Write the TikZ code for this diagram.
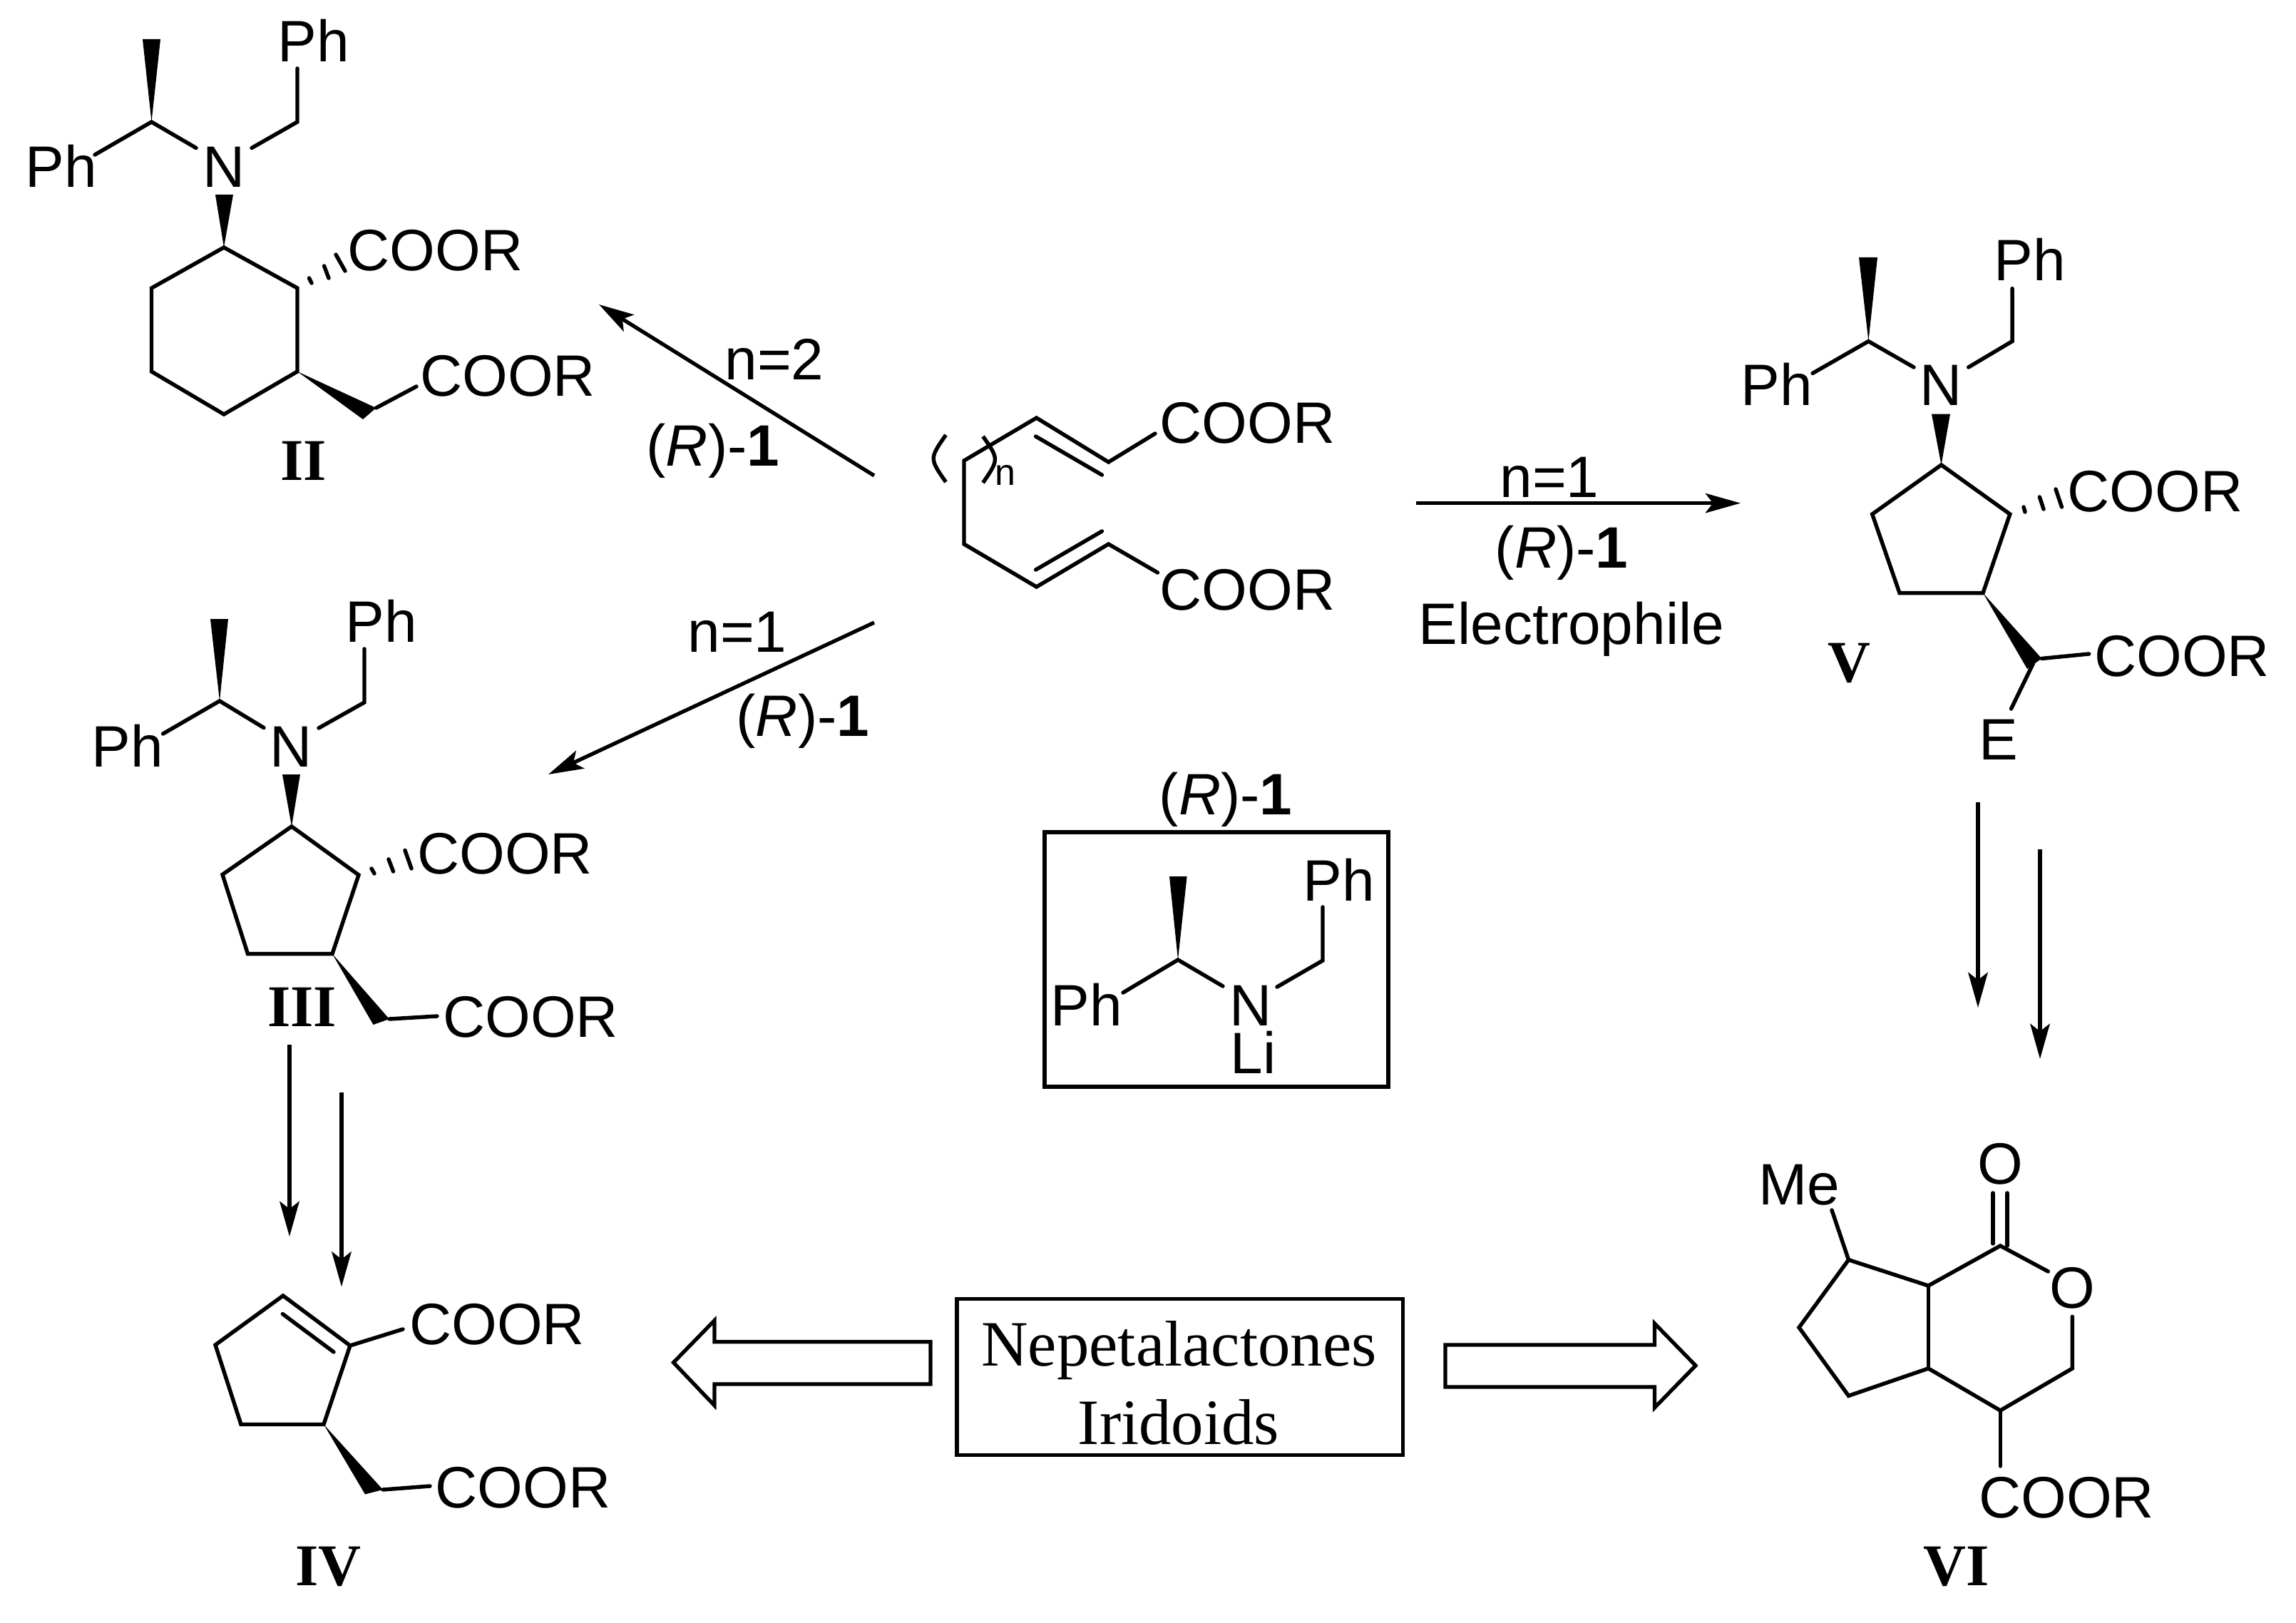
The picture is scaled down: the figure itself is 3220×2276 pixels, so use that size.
\documentclass[tikz,border=0pt]{standalone}
\usepackage{fontspec}
\setmainfont{Liberation Sans}
\newfontfamily\timesf{Liberation Serif}
\usetikzlibrary{arrows.meta}
\tikzset{
  x=0.01cm,y=-0.01cm,
  bond/.style={line width=1.55pt,line join=miter,line cap=round},
  boxline/.style={line width=1.5pt,line join=miter},
  rxn/.style={line width=1.5pt,-{Stealth[length=14pt,width=7.8pt,inset=3pt]}},
  atom/.style={inner sep=0pt,anchor=base,font=\fontsize{23.3}{27}\selectfont},
  subn/.style={inner sep=0pt,anchor=base,font=\fontsize{14.8}{18}\selectfont},
  cpd/.style={inner sep=0pt,anchor=base,font=\timesf\bfseries\fontsize{23.6}{28}\selectfont},
  boxtext/.style={inner sep=0pt,anchor=base,font=\timesf\fontsize{25.8}{30}\selectfont},
}
\newcommand{\Rone}{(\textit{R})-\textbf{1}}
\begin{document}
\begin{tikzpicture}
\useasboundingbox (0,0) rectangle (3220,2276);
% ---------- II ----------
\coordinate (a1) at (212.5,171); \coordinate (a2) at (200,55); \coordinate (a3) at (225,55);
\coordinate (a4) at (133,217); \coordinate (a5) at (275,207.5); \coordinate (a6) at (353,207.5);
\coordinate (a7) at (417,171); \coordinate (a8) at (417,96);
\coordinate (r1) at (314,347); \coordinate (r2) at (417,404); \coordinate (r3) at (417,521);
\coordinate (r4) at (314,581); \coordinate (r5) at (212.5,521); \coordinate (r6) at (212.5,404);
\coordinate (w1) at (302,273); \coordinate (w2) at (327,273);
\coordinate (w3) at (509,588); \coordinate (w4) at (527.5,572); \coordinate (a9) at (584,542);
\coordinate (h1) at (433.5,390); \coordinate (h2) at (437,397); \coordinate (h3) at (454.6,373);
\coordinate (h4) at (461,390); \coordinate (h5) at (471,357); \coordinate (h6) at (484,380);
\fill (a1) -- (a2) -- (a3) -- cycle;
\fill (r1) -- (w1) -- (w2) -- cycle;
\fill (r3) -- (w3) -- (w4) -- cycle;
\draw[bond] (a4) -- (a1) -- (a5);
\draw[bond] (a6) -- (a7) -- (a8);
\draw[bond] (r1) -- (r2) -- (r3) -- (r4) -- (r5) -- (r6) -- cycle;
\draw[bond] (w4) -- (a9);
\draw[bond] (h1) -- (h2); \draw[bond] (h3) -- (h4); \draw[bond] (h5) -- (h6);
\node[atom] (iiPhA) at (439.5,87) {Ph};
\node[atom] (iiPhB) at (85.5,263) {Ph};
\node[atom] (iiN) at (314.5,263) {N};
\node[atom] (iiCa) at (610.5,380) {COOR};
\node[atom] (iiCb) at (712,556) {COOR};
\node[cpd] (iiL) at (426,673) {II};
% ---------- central diene ----------
\coordinate (c1) at (1453.6,586); \coordinate (c2) at (1352,646); \coordinate (c3) at (1352,763);
\coordinate (c4) at (1453.6,823); \coordinate (c5) at (1554.6,763); \coordinate (c6) at (1554.6,648);
\coordinate (c7) at (1620,608); \coordinate (c8) at (1623.5,803);
\coordinate (d1) at (1452.6,612); \coordinate (d2) at (1545.4,666);
\coordinate (d3) at (1452.6,799); \coordinate (d4) at (1545.4,745);
\coordinate (p1) at (1326.5,610); \coordinate (p2) at (1303.5,643); \coordinate (p3) at (1326.5,676);
\coordinate (p4) at (1378.6,612); \coordinate (p5) at (1401,644); \coordinate (p6) at (1378.6,677);
\draw[bond] (c7) -- (c6) -- (c1) -- (c2) -- (c3) -- (c4) -- (c5) -- (c8);
\draw[bond] (d1) -- (d2); \draw[bond] (d3) -- (d4);
\draw[bond,line cap=butt] (p1) .. controls (p2) .. (p3);
\draw[bond,line cap=butt] (p4) .. controls (p5) .. (p6);
\node[subn] (cn) at (1410,680) {n};
\node[atom] (cCa) at (1749.5,622) {COOR};
\node[atom] (cCb) at (1749.5,855) {COOR};
% ---------- reaction arrows from diene ----------
\coordinate (t1) at (1226,667); \coordinate (e1) at (840,427);
\coordinate (t2) at (1226,873); \coordinate (e2) at (769,1086);
\coordinate (t3) at (1986,705.6); \coordinate (e3) at (2441,705.6);
\draw[rxn] (t1) -- (e1);
\draw[rxn] (t2) -- (e2);
\draw[rxn] (t3) -- (e3);
\node[atom] (ln2) at (1086,533) {n=2};
\node[atom] (lr2) at (1000,653) {\Rone};
\node[atom] (ln1) at (1034,914) {n=1};
\node[atom] (lr1) at (1126,1032) {\Rone};
\node[atom] (ln3) at (2173,698) {n=1};
\node[atom] (lr3) at (2190,797) {\Rone};
\node[atom] (lel) at (2204,903) {Electrophile};
% ---------- III ----------
\coordinate (b1) at (308,983); \coordinate (b2) at (295,868); \coordinate (b3) at (320,868);
\coordinate (b4) at (228.6,1029); \coordinate (b5) at (370,1020.6); \coordinate (b6) at (447,1021);
\coordinate (b7) at (511,985); \coordinate (b8) at (511,910);
\coordinate (s1) at (409,1159); \coordinate (s2) at (503,1227); \coordinate (s3) at (466,1337.6);
\coordinate (s4) at (347.5,1337.6); \coordinate (s5) at (312,1226.4);
\coordinate (x1) at (396,1086); \coordinate (x2) at (421,1086);
\coordinate (x3) at (523.5,1437); \coordinate (x4) at (546,1429); \coordinate (b9) at (613,1425);
\coordinate (k1) at (521,1218); \coordinate (k2) at (525,1225); \coordinate (k3) at (545,1205);
\coordinate (k4) at (551.5,1222); \coordinate (k5) at (568,1192.5); \coordinate (k6) at (577,1218);
\fill (b1) -- (b2) -- (b3) -- cycle;
\fill (s1) -- (x1) -- (x2) -- cycle;
\fill (s3) -- (x3) -- (x4) -- cycle;
\draw[bond] (b4) -- (b1) -- (b5);
\draw[bond] (b6) -- (b7) -- (b8);
\draw[bond] (s1) -- (s2) -- (s3) -- (s4) -- (s5) -- cycle;
\draw[bond] (x4) -- (b9);
\draw[bond] (k1) -- (k2); \draw[bond] (k3) -- (k4); \draw[bond] (k5) -- (k6);
\node[atom] (iiiPhA) at (534.5,900.5) {Ph};
\node[atom] (iiiPhB) at (179,1075) {Ph};
\node[atom] (iiiN) at (408.5,1075.5) {N};
\node[atom] (iiiCa) at (708,1225) {COOR};
\node[atom] (iiiCb) at (744,1454) {COOR};
\node[cpd] (iiiL) at (423.5,1439) {III};
% ---------- arrows III to IV ----------
\coordinate (t4) at (406,1465); \coordinate (e4) at (406,1734);
\coordinate (t5) at (479,1532); \coordinate (e5) at (479,1804.5);
\draw[rxn] (t4) -- (e4);
\draw[rxn] (t5) -- (e5);
% ---------- IV ----------
\coordinate (f1) at (397,1817); \coordinate (f2) at (491,1887); \coordinate (f3) at (454,1997.5);
\coordinate (f4) at (338,1997.5); \coordinate (f5) at (302,1886);
\coordinate (f6) at (396.4,1842.6); \coordinate (f7) at (468,1896); \coordinate (f8) at (565,1864);
\coordinate (y1) at (512,2095.5); \coordinate (y2) at (537,2089); \coordinate (f9) at (603,2084);
\fill (f3) -- (y1) -- (y2) -- cycle;
\draw[bond] (f1) -- (f2) -- (f3) -- (f4) -- (f5) -- cycle;
\draw[bond] (f6) -- (f7);
\draw[bond] (f2) -- (f8);
\draw[bond] (y2) -- (f9);
\node[atom] (ivCa) at (697,1885) {COOR};
\node[atom] (ivCb) at (733.5,2114) {COOR};
\node[cpd] (ivL) at (460.5,2223) {IV};
% ---------- reagent box ----------
\coordinate (q1) at (1652,1346); \coordinate (q2) at (1640,1229); \coordinate (q3) at (1664.6,1229);
\coordinate (q4) at (1575,1392); \coordinate (q5) at (1715,1383); \coordinate (q6) at (1791,1384);
\coordinate (q7) at (1855,1347); \coordinate (q8) at (1855,1272);
\coordinate (bx1) at (1465,1167); \coordinate (bx2) at (1947,1524);
\draw[boxline] (bx1) rectangle (bx2);
\fill (q1) -- (q2) -- (q3) -- cycle;
\draw[bond] (q4) -- (q1) -- (q5);
\draw[bond] (q6) -- (q7) -- (q8);
\node[atom] (rL) at (1719,1142) {\Rone};
\node[atom] (rPhA) at (1878,1263) {Ph};
\node[atom] (rPhB) at (1523.5,1438) {Ph};
\node[atom] (rN) at (1754.5,1438) {N};
\node[atom] (rLi) at (1757.5,1505) {Li};
% ---------- Nepetalactones box and hollow arrows ----------
\coordinate (nb1) at (1342,1821.7); \coordinate (nb2) at (1967.6,2040.7);
\draw[boxline] (nb1) rectangle (nb2);
\node[boxtext] (nT1) at (1653.5,1915) {Nepetalactones};
\node[boxtext] (nT2) at (1653,2025) {Iridoids};
\coordinate (la1) at (944.5,1910.7); \coordinate (la2) at (1002,1851.7); \coordinate (la3) at (1002,1881.7);
\coordinate (la4) at (1305,1881.7); \coordinate (la5) at (1305,1941); \coordinate (la6) at (1002,1941);
\coordinate (la7) at (1002,1971);
\draw[boxline] (la1) -- (la2) -- (la3) -- (la4) -- (la5) -- (la6) -- (la7) -- cycle;
\coordinate (ra1) at (2378,1915); \coordinate (ra2) at (2320.5,1856); \coordinate (ra3) at (2320.5,1886);
\coordinate (ra4) at (2027,1886); \coordinate (ra5) at (2027,1945); \coordinate (ra6) at (2320.5,1945);
\coordinate (ra7) at (2320.5,1974);
\draw[boxline] (ra1) -- (ra2) -- (ra3) -- (ra4) -- (ra5) -- (ra6) -- (ra7) -- cycle;
% ---------- V ----------
\coordinate (g1) at (2620.4,478.6); \coordinate (g2) at (2607,361); \coordinate (g3) at (2633,361);
\coordinate (g4) at (2542,523.5); \coordinate (g5) at (2684,515); \coordinate (g6) at (2760.7,515);
\coordinate (g7) at (2822,478.6); \coordinate (g8) at (2822,404.6);
\coordinate (m1) at (2722.5,652); \coordinate (m2) at (2818.8,721); \coordinate (m3) at (2781,831.6);
\coordinate (m4) at (2664,831.6); \coordinate (m5) at (2625.7,721);
\coordinate (z1) at (2709,580.6); \coordinate (z2) at (2735,580.6);
\coordinate (z3) at (2843,938); \coordinate (z4) at (2863.4,923.5); \coordinate (g9) at (2929.7,917);
\coordinate (g10) at (2851.6,930); \coordinate (g11) at (2820.5,994);
\coordinate (n1) at (2838,711); \coordinate (n2) at (2840,718); \coordinate (n3) at (2860.4,697);
\coordinate (n4) at (2866,714); \coordinate (n5) at (2883,686); \coordinate (n6) at (2891.5,711);
\fill (g1) -- (g2) -- (g3) -- cycle;
\fill (m1) -- (z1) -- (z2) -- cycle;
\fill (m3) -- (z3) -- (z4) -- cycle;
\draw[bond] (g4) -- (g1) -- (g5);
\draw[bond] (g6) -- (g7) -- (g8);
\draw[bond] (m1) -- (m2) -- (m3) -- (m4) -- (m5) -- cycle;
\draw[bond] (z4) -- (g9);
\draw[bond] (g10) -- (g11);
\draw[bond] (n1) -- (n2); \draw[bond] (n3) -- (n4); \draw[bond] (n5) -- (n6);
\node[atom] (vPhA) at (2846.5,394) {Ph};
\node[atom] (vPhB) at (2491.5,569) {Ph};
\node[atom] (vN) at (2722.5,569) {N};
\node[atom] (vCa) at (3022.5,718) {COOR};
\node[atom] (vCb) at (3060,948) {COOR};
\node[atom] (vE) at (2803,1065) {E};
\node[cpd] (vL) at (2593.5,956) {V};
% ---------- arrows V to VI ----------
\coordinate (t6) at (2774,1125); \coordinate (e6) at (2774,1413);
\coordinate (t7) at (2861,1191); \coordinate (e7) at (2861,1485);
\draw[rxn] (t6) -- (e6);
\draw[rxn] (t7) -- (e7);
% ---------- VI ----------
\coordinate (v1) at (2805.3,1747); \coordinate (v2) at (2704.4,1803); \coordinate (v3) at (2592.5,1766.7);
\coordinate (v4) at (2523,1861.6); \coordinate (v5) at (2592.5,1957.4); \coordinate (v6) at (2704.4,1919);
\coordinate (v7) at (2805.3,1978); \coordinate (v8) at (2906.3,1919); \coordinate (v9) at (2906.3,1846.3);
\coordinate (v10) at (2872.3,1783); \coordinate (v11) at (2569,1697); \coordinate (v12) at (2805.3,2056);
\coordinate (o1) at (2795,1673); \coordinate (o2) at (2795,1744); \coordinate (o3) at (2815,1673); \coordinate (o4) at (2815,1747);
\draw[bond] (v10) -- (v1) -- (v2) -- (v3) -- (v4) -- (v5) -- (v6) -- (v7) -- (v8) -- (v9);
\draw[bond] (v2) -- (v6);
\draw[bond] (v3) -- (v11);
\draw[bond] (v7) -- (v12);
\draw[bond] (o1) -- (o2); \draw[bond] (o3) -- (o4);
\node[atom] (viMe) at (2523,1689) {Me};
\node[atom] (viOa) at (2805,1660) {O};
\node[atom] (viOb) at (2906,1834) {O};
\node[atom] (viC) at (2898,2128) {COOR};
\node[cpd] (viL) at (2744,2223.6) {VI};
\end{tikzpicture}
\end{document}
